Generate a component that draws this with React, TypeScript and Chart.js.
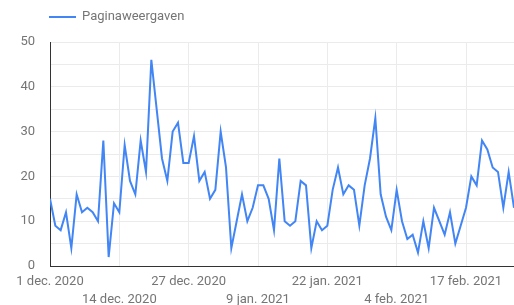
import React, { useEffect, useRef } from 'react';
import { Chart, registerables } from 'chart.js';

Chart.register(...registerables);

const seriesName = 'Paginaweergaven';

// Daily page views starting 1 dec. 2020 (index = day offset)
const values = [
  15, 9, 8, 12, 4, 16, 12, 13, 12, 10,
  28, 2, 14, 12, 27, 19, 16, 28, 21, 46,
  35, 24, 19, 30, 32, 23, 23, 29, 19, 21,
  15, 17, 30, 22, 4, 10, 16, 10, 13, 18,
  18, 15, 8, 24, 10, 9, 10, 19, 18, 4,
  10, 8, 9, 17, 22, 16, 18, 17, 9, 18,
  24, 33, 16, 11, 8, 17, 10, 6, 7, 3,
  10, 4, 13, 10, 7, 12, 5, 9, 13, 20,
  18, 28, 26, 22, 21, 13, 21, 13,
];

const tickDays = [0, 13, 26, 39, 52, 65, 78];
const tickLabels = [
  '1 dec. 2020',
  '14 dec. 2020',
  '27 dec. 2020',
  '9 jan. 2021',
  '22 jan. 2021',
  '4 feb. 2021',
  '17 feb. 2021',
];
const yGridValues = [0, 5, 10, 15, 20, 25, 30, 35, 40, 45, 50];
const yLabelValues = [0, 10, 20, 30, 40, 50];

const LINE_COLOR = '#4285f4';
const TEXT_COLOR = '#757575';
const GRID_COLOR = '#ebebeb';
const AXIS_COLOR = '#333333';

export default function App() {
  const ref = useRef<HTMLCanvasElement>(null);

  useEffect(() => {
    if (!ref.current) return;
    const legendPlugin = {
      id: 'customLegend',
      afterDraw(chart: any) {
        const ctx = chart.ctx;
        ctx.save();
        ctx.strokeStyle = LINE_COLOR;
        ctx.lineWidth = 2;
        ctx.beginPath();
        ctx.moveTo(49, 17);
        ctx.lineTo(76, 17);
        ctx.stroke();
        ctx.fillStyle = TEXT_COLOR;
        ctx.font = '13px Roboto';
        ctx.textBaseline = 'middle';
        ctx.textAlign = 'left';
        ctx.fillText(seriesName, 82, 17);
        ctx.restore();
      },
    };

    const chart = new Chart(ref.current, {
      type: 'line',
      data: {
        datasets: [
          {
            label: seriesName,
            data: values.map((v, i) => ({ x: i, y: v })),
            borderColor: LINE_COLOR,
            backgroundColor: LINE_COLOR,
            borderWidth: 2,
            pointRadius: 0,
            tension: 0,
            fill: false,
          },
        ],
      },
      options: {
        responsive: false,
        animation: false,
        layout: { padding: { top: 42, left: 0, right: 0, bottom: 0 } },
        plugins: {
          legend: { display: false },
          tooltip: { enabled: false },
        },
        scales: {
          x: {
            type: 'linear',
            min: 0,
            max: values.length - 1,
            afterBuildTicks: (axis: any) => {
              axis.ticks = tickDays.map((v) => ({ value: v }));
            },
            afterFit: (s: any) => {
              s.height = 39;
            },
            ticks: {
              autoSkip: false,
              maxRotation: 0,
              minRotation: 0,
              padding: 7,
              color: TEXT_COLOR,
              font: { family: 'Roboto', size: 13, lineHeight: '18px' },
              callback: (v: any) => {
                const idx = tickDays.indexOf(Number(v));
                if (idx < 0) return '';
                return idx % 2 === 0 ? [tickLabels[idx], ''] : ['', tickLabels[idx]];
              },
            },
            grid: { color: GRID_COLOR, drawTicks: false },
            border: { color: AXIS_COLOR, width: 1 },
          },
          y: {
            min: 0,
            max: 50,
            afterBuildTicks: (axis: any) => {
              axis.ticks = yGridValues.map((v) => ({ value: v }));
            },
            afterFit: (s: any) => {
              s.width = 50;
            },
            ticks: {
              autoSkip: false,
              padding: 15,
              color: TEXT_COLOR,
              font: { family: 'Roboto', size: 13 },
              callback: (v: any) => (yLabelValues.includes(Number(v)) ? String(v) : ''),
            },
            grid: { color: GRID_COLOR, drawTicks: false },
            border: { color: AXIS_COLOR, width: 1 },
          },
        },
      },
      plugins: [legendPlugin],
    } as any);

    return () => chart.destroy();
  }, []);

  return (
    <div style={{ position: 'fixed', left: 0, top: 0, width: 514, height: 305, background: '#fff' }}>
      <canvas ref={ref} width={514} height={305} style={{ display: 'block' }} />
    </div>
  );
}
